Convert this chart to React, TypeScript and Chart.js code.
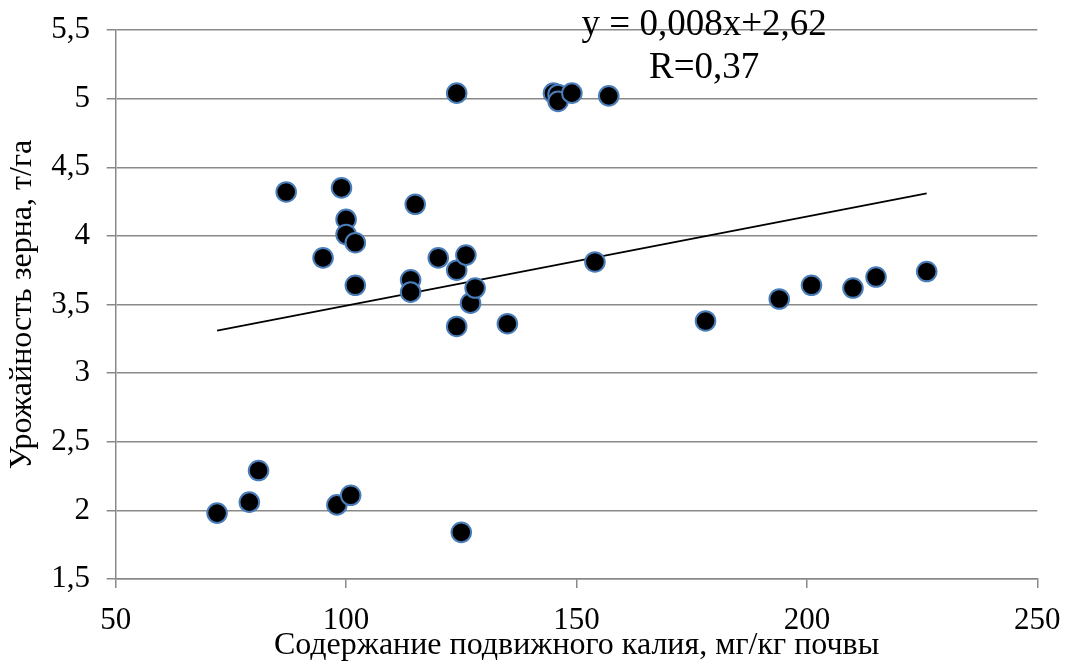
import React, { useEffect, useRef } from "react";
import { Chart, registerables } from "chart.js";

Chart.register(...registerables);

const potassium = [72, 79, 81, 87, 95, 98, 99, 100, 100, 101, 102, 102, 114, 114, 115, 120, 124, 124, 124, 125, 126, 127, 128, 135, 145, 146, 146, 149, 154, 157, 178, 194, 201, 210, 215, 226];
const yieldValues = [1.98, 2.06, 2.29, 4.32, 3.84, 2.04, 4.35, 4.12, 4.01, 2.11, 3.95, 3.64, 3.68, 3.59, 4.23, 3.84, 5.04, 3.75, 3.34, 1.84, 3.86, 3.51, 3.62, 3.36, 5.04, 5.03, 4.98, 5.04, 3.81, 5.02, 3.38, 3.54, 3.64, 3.62, 3.7, 3.74];
const trendX = [72, 226];
const trendY = [3.31, 4.31];
const equationLines = ["y = 0,008x+2,62", "R=0,37"];
const xTitle = "Содержание подвижного калия, мг/кг почвы";
const yTitle = "Урожайность зерна, т/га";

const FONT = "'Liberation Serif', 'Times New Roman', serif";
const GRID = "#898989";

function zeroPadding(scale: any) {
  scale.paddingTop = 0;
  scale.paddingBottom = 0;
  scale.paddingLeft = 0;
  scale.paddingRight = 0;
}

export default function App() {
  const ref = useRef<HTMLCanvasElement | null>(null);

  useEffect(() => {
    document.body.style.margin = "0";
    const canvas = ref.current;
    if (!canvas) return;

    const equationPlugin = {
      id: "equation",
      afterDraw(chart: any) {
        const ctx = chart.ctx;
        const xs = chart.scales.x;
        const cx = xs.getPixelForValue(177.7);
        ctx.save();
        ctx.fillStyle = "#000";
        ctx.font = `37px ${FONT}`;
        ctx.textAlign = "center";
        ctx.textBaseline = "alphabetic";
        ctx.fillText(equationLines[0], cx, 35);
        ctx.fillText(equationLines[1], cx, 78);
        ctx.restore();
      },
    };

    const chart = new Chart(canvas, {
      type: "scatter",
      data: {
        datasets: [
          {
            label: "points",
            data: potassium.map((x, i) => ({ x, y: yieldValues[i] })),
            backgroundColor: "#000000",
            borderColor: "#4a7ebb",
            borderWidth: 2,
            pointRadius: 9.8,
            pointHoverRadius: 9.8,
            order: 0,
          },
          {
            label: "trend",
            data: trendX.map((x, i) => ({ x, y: trendY[i] })),
            showLine: true,
            borderColor: "#000000",
            borderWidth: 1.8,
            pointRadius: 0,
            fill: false,
            order: 1,
          },
        ],
      },
      options: {
        responsive: false,
        animation: false,
        layout: { padding: { left: 0, right: 32.7, top: 30, bottom: 0 } },
        plugins: { legend: { display: false }, tooltip: { enabled: false } },
        scales: {
          x: {
            type: "linear",
            min: 50,
            max: 250,
            afterFit(scale: any) {
              scale.height = 86;
              zeroPadding(scale);
            },
            ticks: {
              stepSize: 50,
              color: "#000",
              font: { family: FONT, size: 31 },
              padding: 14,
              maxRotation: 0,
            },
            grid: {
              drawOnChartArea: false,
              drawTicks: true,
              tickLength: 9,
              color: GRID,
              lineWidth: 1.5,
            },
            border: { display: true, color: GRID, width: 1.5 },
            title: {
              display: true,
              text: xTitle,
              color: "#000",
              font: { family: FONT, size: 32 },
              padding: { top: 0, bottom: 0 },
            },
          },
          y: {
            type: "linear",
            min: 1.5,
            max: 5.5,
            afterFit(scale: any) {
              scale.width = 115.7;
              zeroPadding(scale);
            },
            ticks: {
              stepSize: 0.5,
              color: "#000",
              font: { family: FONT, size: 31 },
              padding: 16.7,
              callback: (v: any) => String(v).replace(".", ","),
            },
            grid: {
              drawTicks: true,
              tickLength: 9,
              color: GRID,
              lineWidth: 1.5,
            },
            border: { display: true, color: GRID, width: 1.5 },
            title: {
              display: true,
              text: yTitle,
              color: "#000",
              font: { family: FONT, size: 32 },
              padding: { top: 3, bottom: 0 },
            },
          },
        },
      },
      plugins: [equationPlugin],
    });

    return () => chart.destroy();
  }, []);

  return (
    <div style={{ position: "absolute", left: 0, top: 0, width: 1070, height: 665, background: "#fff" }}>
      <canvas ref={ref} width={1070} height={665} />
    </div>
  );
}
